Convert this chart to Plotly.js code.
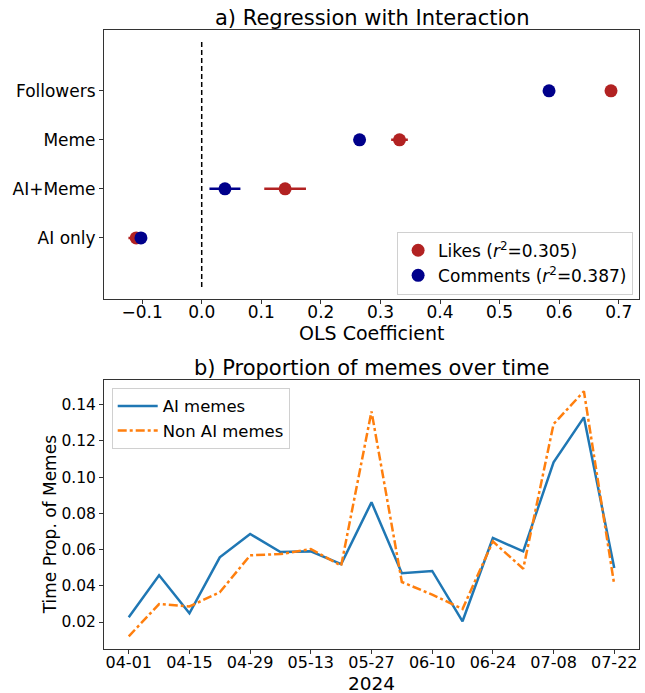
<!DOCTYPE html>
<html>
<head>
<meta charset="utf-8">
<script src="https://cdn.plot.ly/plotly-3.0.1.min.js"></script>
<style>html,body{margin:0;padding:0;background:#fff;}#chart{width:645px;height:693px;}</style>
</head>
<body>
<div id="chart"></div>
<script>
// Panel a) regression coefficients (bottom-to-top order)
const categories = ['AI only', 'AI+Meme', 'Meme', 'Followers'];
const likesCoef = [-0.110, 0.140, 0.332, 0.687];
const likesErr = [0.013, 0.035, 0.014, 0.004];
const commentsCoef = [-0.102, 0.039, 0.265, 0.583];
const commentsErr = [0.008, 0.026, 0.009, 0.004];
const likesName = 'Likes (<i>r</i><sup>2</sup>=0.305)';
const commentsName = 'Comments (<i>r</i><sup>2</sup>=0.387)';

// Panel b) weekly proportions
const weeks = ['2024-04-01','2024-04-08','2024-04-15','2024-04-22','2024-04-29','2024-05-06',
  '2024-05-13','2024-05-20','2024-05-27','2024-06-03','2024-06-10','2024-06-17','2024-06-24',
  '2024-07-01','2024-07-08','2024-07-15','2024-07-22'];
const aiMemes = [0.0226,0.0458,0.0248,0.0557,0.0686,0.0586,0.0590,0.0520,0.0861,0.0469,0.0482,
  0.0204,0.0664,0.0590,0.1082,0.1330,0.0498];
const nonAiMemes = [0.0121,0.0299,0.0286,0.0364,0.0568,0.0575,0.0603,0.0511,0.1363,0.0421,0.0351,
  0.0272,0.0645,0.0494,0.1293,0.1474,0.0406];
const xTickVals = ['2024-04-01','2024-04-15','2024-04-29','2024-05-13','2024-05-27','2024-06-10',
  '2024-06-24','2024-07-08','2024-07-22'];

const FONT = 'DejaVu Sans, sans-serif';
const RED = '#b22222', BLUE = '#00008b';

const traces = [
  {type:'scatter', mode:'markers', name: likesName, x: likesCoef, y: categories,
   xaxis:'x', yaxis:'y', legend:'legend',
   marker:{color:RED, size:13},
   error_x:{type:'data', array: likesErr, visible:true, color:RED, thickness:2.5, width:0}},
  {type:'scatter', mode:'markers', name: commentsName, x: commentsCoef, y: categories,
   xaxis:'x', yaxis:'y', legend:'legend',
   marker:{color:BLUE, size:13},
   error_x:{type:'data', array: commentsErr, visible:true, color:BLUE, thickness:2.5, width:0}},
  {type:'scatter', mode:'lines', name:'AI memes', x: weeks, y: aiMemes,
   xaxis:'x2', yaxis:'y2', legend:'legend2',
   line:{color:'#1f77b4', width:2.5}},
  {type:'scatter', mode:'lines', name:'Non AI memes', x: weeks, y: nonAiMemes,
   xaxis:'x2', yaxis:'y2', legend:'legend2',
   line:{color:'#ff7f0e', width:2.5, dash:'dashdot'}}
];

const axisCommon = {
  showgrid:false, zeroline:false, showline:true, mirror:true,
  linecolor:'#333', linewidth:1, ticks:'outside', ticklen:4, tickwidth:1, tickcolor:'#333'
};

const H = 649.3, PH = 619;
function py(p){ return (H - p) / PH; }

const layout = {
  width:645, height:693,
  margin:{l:104, r:6, t:30, b:44},
  paper_bgcolor:'#fff', plot_bgcolor:'#fff',
  font:{family:FONT, color:'#000'},
  xaxis: Object.assign({}, axisCommon, {
    domain:[0,1], anchor:'y', range:[-0.164, 0.734], dtick:0.1, tick0:0, tickformat:'.1f',
    tickfont:{size:17}, ticklabelstandoff:-6
  }),
  yaxis: Object.assign({}, axisCommon, {
    domain:[py(299), 1], anchor:'x', type:'category',
    categoryorder:'array', categoryarray: categories, range:[-1.24, 4.24],
    tickfont:{size:17}
  }),
  xaxis2: Object.assign({}, axisCommon, {
    domain:[0,1], anchor:'y2', type:'date',
    range:['2024-03-26 07:00','2024-07-27 17:00'],
    tickvals: xTickVals, tickformat:'%m-%d', tickfont:{size:16}, ticklabelstandoff:-5
  }),
  yaxis2: Object.assign({}, axisCommon, {
    domain:[0, py(380.7)], anchor:'x2', range:[0.0051, 0.1534],
    dtick:0.02, tick0:0, tickformat:'.2f', tickfont:{size:15.5}
  }),
  legend:{
    x:0.989, xanchor:'right', y:py(232), yanchor:'top', xref:'paper', yref:'paper',
    bgcolor:'rgba(255,255,255,0.85)', bordercolor:'#d0d0d0', borderwidth:1,
    font:{size:17}, itemwidth:30
  },
  legend2:{
    x:0.0144, xanchor:'left', y:py(388), yanchor:'top', xref:'paper', yref:'paper',
    bgcolor:'rgba(255,255,255,0.85)', bordercolor:'#d0d0d0', borderwidth:1,
    font:{size:16.5}, itemwidth:40
  },
  shapes:[
    {type:'line', xref:'x', yref:'y', x0:0, x1:0, y0:-1, y1:4,
     line:{color:'#000', width:1.5, dash:'5px,3px'}, layer:'below'}
  ],
  annotations:[
    {text:'a) Regression with Interaction', xref:'paper', yref:'paper', x:0.5, y:py(18),
     xanchor:'center', yanchor:'middle', showarrow:false, font:{size:21}},
    {text:'OLS Coefficient', xref:'paper', yref:'paper', x:0.5, y:py(333),
     xanchor:'center', yanchor:'middle', showarrow:false, font:{size:19}},
    {text:'b) Proportion of memes over time', xref:'paper', yref:'paper', x:0.5, y:py(368),
     xanchor:'center', yanchor:'middle', showarrow:false, font:{size:21}},
    {text:'2024', xref:'paper', yref:'paper', x:0.5, y:py(684),
     xanchor:'center', yanchor:'middle', showarrow:false, font:{size:18.5}},
    {text:'Time Prop. of Memes', xref:'paper', yref:'paper', x:(50-104.3)/534.7, y:py(525),
     xanchor:'center', yanchor:'middle', showarrow:false, textangle:-90, font:{size:17}}
  ],
  showlegend:true
};

Plotly.newPlot('chart', traces, layout, {displayModeBar:false, staticPlot:true});
</script>
</body>
</html>
